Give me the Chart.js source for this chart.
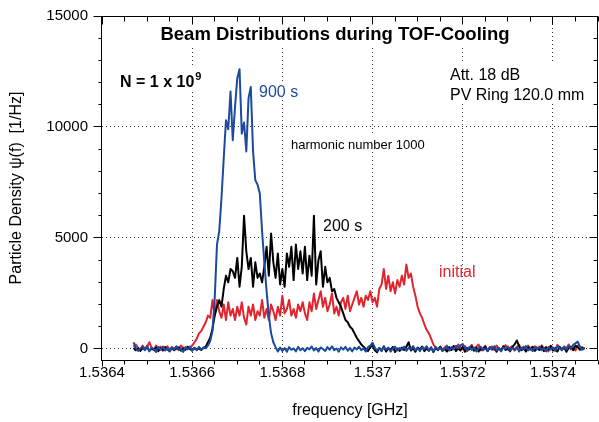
<!DOCTYPE html>
<html><head><meta charset="utf-8">
<script src="https://cdn.jsdelivr.net/npm/chart.js@4/dist/chart.umd.min.js"></script>
<style>html,body{margin:0;padding:0;background:#fff}#wrap{width:599px;height:422px;position:relative}</style>
</head><body><div id="wrap"><canvas id="c" width="599" height="422"></canvas></div>
<script>
const frequencyGHz = [
1.536470,1.536475,1.536480,1.536485,1.536490,1.536495,1.536500,1.536505,1.536510,1.536515,
1.536520,1.536525,1.536530,1.536535,1.536540,1.536545,1.536550,1.536555,1.536560,1.536565,
1.536570,1.536575,1.536580,1.536585,1.536590,1.536595,1.536600,1.536605,1.536610,1.536615,
1.536620,1.536625,1.536630,1.536635,1.536640,1.536645,1.536650,1.536655,1.536660,1.536665,
1.536670,1.536675,1.536680,1.536685,1.536690,1.536695,1.536700,1.536705,1.536710,1.536715,
1.536720,1.536725,1.536730,1.536735,1.536740,1.536745,1.536750,1.536755,1.536760,1.536765,
1.536770,1.536775,1.536780,1.536785,1.536790,1.536795,1.536800,1.536805,1.536810,1.536815,
1.536820,1.536825,1.536830,1.536835,1.536840,1.536845,1.536850,1.536855,1.536860,1.536865,
1.536870,1.536875,1.536880,1.536885,1.536890,1.536895,1.536900,1.536905,1.536910,1.536915,
1.536920,1.536925,1.536930,1.536935,1.536940,1.536945,1.536950,1.536955,1.536960,1.536965,
1.536970,1.536975,1.536980,1.536985,1.536990,1.536995,1.537000,1.537005,1.537010,1.537015,
1.537020,1.537025,1.537030,1.537035,1.537040,1.537045,1.537050,1.537055,1.537060,1.537065,
1.537070,1.537075,1.537080,1.537085,1.537090,1.537095,1.537100,1.537105,1.537110,1.537115,
1.537120,1.537125,1.537130,1.537135,1.537140,1.537145,1.537150,1.537155,1.537160,1.537165,
1.537170,1.537175,1.537180,1.537185,1.537190,1.537195,1.537200,1.537205,1.537210,1.537215,
1.537220,1.537225,1.537230,1.537235,1.537240,1.537245,1.537250,1.537255,1.537260,1.537265,
1.537270,1.537275,1.537280,1.537285,1.537290,1.537295,1.537300,1.537305,1.537310,1.537315,
1.537320,1.537325,1.537330,1.537335,1.537340,1.537345,1.537350,1.537355,1.537360,1.537365,
1.537370,1.537375,1.537380,1.537385,1.537390,1.537395,1.537400,1.537405,1.537410,1.537415,
1.537420,1.537425,1.537430,1.537435,1.537440,1.537445,1.537450,1.537455,1.537460,1.537465,
1.537470];

const initialDensity = [
100,200,50,-60,150,0,100,300,50,-50,
150,0,100,-80,50,120,-30,80,0,100,
-50,150,50,0,100,50,150,300,450,700,
800,1000,1200,1500,1400,2200,1500,2200,1700,1400,
2000,1300,2100,1500,1800,1300,1900,1500,2100,1400,
1100,1900,1500,2000,1300,1700,1500,2200,1400,1800,
1300,2000,1700,1300,1900,1500,2400,1600,1800,2200,
1500,1800,1400,2000,1700,2100,1600,1300,2100,1700,
2500,1800,2200,2600,1900,2300,1700,2000,2500,1600,
1900,1500,2100,2300,1800,2400,1700,2000,2300,2600,
2000,2300,1900,2400,2200,2600,2100,2300,1900,2700,
2900,3600,2700,3300,2600,3000,2500,3100,2800,3300,
2900,3800,3200,3400,2800,2400,1900,1600,1400,1100,
850,700,450,200,50,-60,100,-40,60,150,
-80,20,120,-60,200,80,-20,130,-100,50,
180,-40,90,200,-70,30,140,-90,60,110,
-50,150,20,-100,80,170,-30,60,130,-80,
40,190,-20,100,-60,150,30,-90,120,60,
-40,160,20,90,-110,140,50,-30,180,70,
-60,110,30,200,-20,80,-70,150,40,60,
-30];

const density200s = [
50,-60,20,-90,40,-30,70,-80,10,-40,
60,-100,30,-50,80,-20,-90,40,-60,10,
70,-80,20,-40,90,-10,-70,50,-30,20,
-50,40,100,300,500,900,1500,1900,2200,1900,
2700,3300,3000,3600,3500,3200,4100,2800,3700,6000,
4400,3600,4100,2800,3900,3200,3400,3000,3700,4600,
3300,5200,3900,3200,4300,2900,3600,2800,4300,3700,
4600,3100,4700,3600,4400,3400,4600,3100,4200,3300,
6000,2900,4000,4400,2800,3700,3000,3200,2600,2700,
2300,2100,1900,1600,1300,1200,1000,900,700,500,
350,200,100,0,-100,80,150,-60,-150,40,
-80,120,-120,30,-60,90,-140,20,-90,60,
-50,100,300,-70,40,-130,60,-30,110,-100,
20,-80,70,-140,50,-40,100,-90,10,-120,
80,-50,130,-100,30,-70,90,-130,40,-20,
110,-80,60,-120,20,-60,100,-100,50,-30,
90,-130,40,-70,120,-50,10,-110,80,200,
380,120,-60,40,-120,70,-30,100,-90,20,
-50,110,-100,60,-40,130,-80,30,-120,90,
-20,70,-130,40,100,-60,150,80,-40,60,
0];

const density900s = [
300,40,-90,20,110,-60,140,-110,60,-20,
-140,90,-40,110,-70,30,-120,70,-30,120,
-50,10,-140,80,-20,100,-80,30,-60,90,
-20,60,30,150,350,800,2300,4700,5300,6800,
8600,10300,9900,11600,9400,10900,12200,12600,9700,10200,
8900,11300,11800,8900,7600,7400,7000,5300,3900,2600,
1500,700,300,80,-120,60,-90,40,-130,80,
-40,20,-110,90,-60,30,-100,50,-20,110,
-70,40,-120,60,0,-90,80,-40,120,-60,
20,-130,70,-30,90,-80,40,-110,60,-20,
100,-60,30,-120,80,150,280,60,-80,40,
-100,90,-30,60,-120,20,100,-70,40,-40,
110,-90,50,-20,130,-60,30,-100,70,-10,
120,-80,40,-110,90,-30,60,-90,20,110,
-60,80,-20,140,30,160,220,40,-70,90,
-40,60,-110,30,100,-60,20,-90,80,-30,
120,-70,40,-100,60,0,110,-80,30,-40,
90,-120,50,-20,130,-70,40,-90,70,-10,
100,-60,20,-110,80,-30,60,-90,120,40,
-60,90,-20,130,20,180,250,330,100,-40,
80];

const xTickValues = [1.5364, 1.5366, 1.5368, 1.5370, 1.5372, 1.5374];
const yTickValues = [0, 5000, 10000, 15000];

const FONT = "'Liberation Sans', Arial, Helvetica, sans-serif";
const BLUE = '#1c4a9e';
const RED = '#e1242d';
const BLACK = '#000000';

function pts(vals){ return frequencyGHz.map((f,i)=>({x:f, y:vals[i]})); }

const deco = {
  id: 'deco',
  beforeDatasetsDraw(chart){
    const {ctx, chartArea:a, scales:{x,y}} = chart;
    ctx.save();
    ctx.strokeStyle = '#3a3a3a';
    ctx.lineWidth = 1;
    ctx.setLineDash([1,3]);
    xTickValues.forEach(v=>{
      if (v <= x.min + 1e-9) return;
      const px = Math.floor(x.getPixelForValue(v)) + 0.5;
      ctx.beginPath(); ctx.moveTo(px, a.top); ctx.lineTo(px, a.bottom); ctx.stroke();
    });
    yTickValues.forEach(v=>{
      if (v >= y.max) return;
      const py = Math.floor(y.getPixelForValue(v)) + 0.5;
      ctx.beginPath(); ctx.moveTo(a.left, py); ctx.lineTo(a.right, py); ctx.stroke();
    });
    ctx.setLineDash([]);
    ctx.fillStyle = '#fff';
    ctx.fillRect(150, 17, 370, 30);   // title
    ctx.fillRect(116, 66, 90, 26);    // N = ...
    ctx.fillRect(256, 82, 48, 18);    // 900 s
    ctx.fillRect(447, 63, 140, 40);   // Att / PV Ring
    ctx.fillRect(289, 136, 142, 16);  // harmonic number
    ctx.restore();
  },
  afterDatasetsDraw(chart){
    const {ctx, chartArea:a, scales:{x,y}} = chart;
    ctx.save();
    ctx.strokeStyle = '#000';
    ctx.lineWidth = 1;
    const L = 101.5, R = 597.5, T = 16.5, B = 360.5;
    ctx.strokeRect(L, T, R-L, B-T);
    ctx.beginPath();
    for (let k = 0; k <= 22; k++){
      const v = 1.5364 + k*0.00005;
      const px = Math.floor(x.getPixelForValue(v)) + 0.5;
      const major = (k % 4 === 0);
      ctx.moveTo(px, B); ctx.lineTo(px, B + (major ? 6 : 4));
      ctx.moveTo(px, T); ctx.lineTo(px, T + (major ? 8 : 5));
    }
    for (let v = 0; v <= 15000; v += 1000){
      const py = Math.floor(y.getPixelForValue(v)) + 0.5;
      const major = (v % 5000 === 0);
      ctx.moveTo(L, py); ctx.lineTo(L - (major ? 8 : 3), py);
      ctx.moveTo(R, py); ctx.lineTo(R - (major ? 8 : 4), py);
    }
    ctx.stroke();

    ctx.textBaseline = 'alphabetic';
    ctx.fillStyle = '#000';
    ctx.font = 'bold 18.5px ' + FONT;
    ctx.textAlign = 'center';
    ctx.fillText('Beam Distributions during TOF-Cooling', 335, 39.5);
    ctx.textAlign = 'left';
    ctx.font = 'bold 16px ' + FONT;
    ctx.fillText('N = 1 x 10', 120, 87);
    const nw = ctx.measureText('N = 1 x 10').width;
    ctx.font = 'bold 11px ' + FONT;
    ctx.fillText('9', 120 + nw + 1, 80);
    ctx.font = '16px ' + FONT;
    ctx.fillStyle = BLUE;
    ctx.fillText('900 s', 259, 97);
    ctx.fillStyle = '#000';
    ctx.fillText('Att. 18 dB', 450, 79.5);
    ctx.fillText('PV Ring 120.0 mm', 450, 99.5);
    ctx.fillText('200 s', 323, 231);
    ctx.fillStyle = RED;
    ctx.fillText('initial', 439, 277);
    ctx.fillStyle = '#000';
    ctx.font = '13px ' + FONT;
    ctx.fillText('harmonic number 1000', 291, 148.5);
    ctx.font = '16px ' + FONT;
    ctx.textAlign = 'center';
    ctx.fillText('frequency [GHz]', 350, 415);
    ctx.translate(17, 188);
    ctx.rotate(-Math.PI/2);
    ctx.textBaseline = 'middle';
    ctx.fillText('Particle Density \u03C8(f)  [1/Hz]', 0, 0);
    ctx.restore();
  }
};

new Chart(document.getElementById('c').getContext('2d'), {
  type: 'line',
  data: {
    datasets: [
      {label:'900 s', data: pts(density900s), borderColor: BLUE, borderWidth: 2, pointRadius: 0, order: 1, tension: 0, borderJoinStyle: 'round', fill: false},
      {label:'200 s', data: pts(density200s), borderColor: BLACK, borderWidth: 2, pointRadius: 0, order: 2, tension: 0, borderJoinStyle: 'round', fill: false},
      {label:'initial', data: pts(initialDensity), borderColor: RED, borderWidth: 2, pointRadius: 0, order: 3, tension: 0, borderJoinStyle: 'round', fill: false}
    ]
  },
  options: {
    responsive: false, animation: false, devicePixelRatio: 1,
    layout: {padding: {top: 16, right: 1, left: 0, bottom: 0}},
    plugins: {legend: {display: false}, tooltip: {enabled: false}, title: {display: false}},
    scales: {
      x: {
        type: 'linear', min: 1.5364, max: 1.5375,
        afterBuildTicks: s => { s.ticks = xTickValues.map(v => ({value: v})); },
        afterFit: s => { s.height = 62; s.paddingLeft = 0; s.paddingRight = 0; s.paddingTop = 0; s.paddingBottom = 0; },
        ticks: {callback: v => String(parseFloat(Number(v).toFixed(4))), font: {family: FONT, size: 15}, color: '#000', padding: 4, maxRotation: 0, autoSkip: false},
        grid: {display: false, drawTicks: false},
        border: {display: false}
      },
      y: {
        type: 'linear', min: -500, max: 15000,
        afterBuildTicks: s => { s.ticks = yTickValues.map(v => ({value: v})); },
        afterFit: s => { s.width = 102; s.paddingTop = 0; s.paddingBottom = 0; s.paddingLeft = 0; s.paddingRight = 0; },
        ticks: {callback: v => String(v), font: {family: FONT, size: 15}, color: '#000', padding: 14, autoSkip: false},
        grid: {display: false, drawTicks: false},
        border: {display: false}
      }
    }
  },
  plugins: [deco]
});
</script>
</body></html>
